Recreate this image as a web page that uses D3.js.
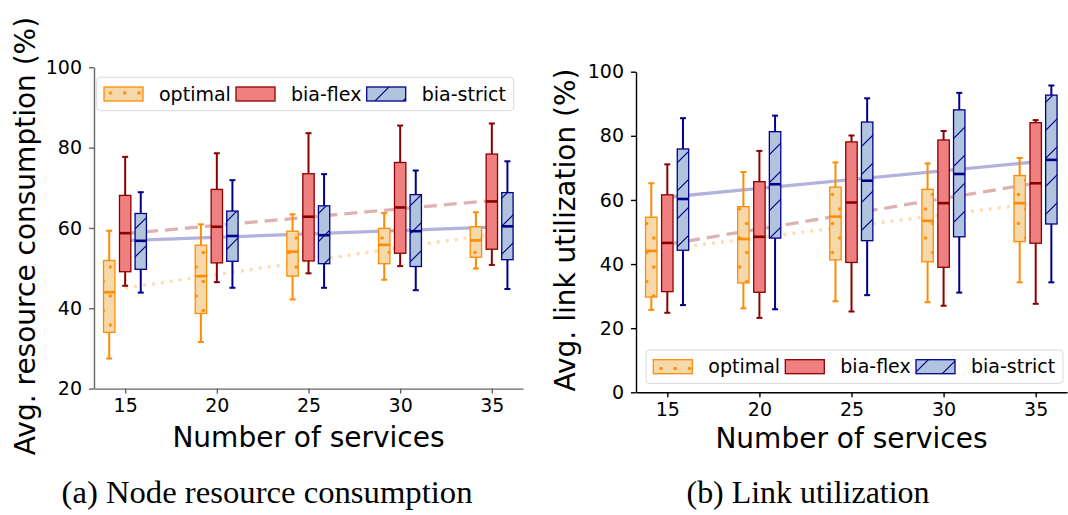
<!DOCTYPE html>
<html lang="en">
<head>
<meta charset="UTF-8">
<title>Resource consumption and link utilization</title>
<script src="https://d3js.org/d3.v7.min.js"></script>
<style>
    body { margin: 0; background: #fff; }
    svg { display: block; }
    text { font-family: "DejaVu Sans", sans-serif; fill: #000; }
    .caption { font-family: "Liberation Serif", "DejaVu Serif", serif; }
</style>
</head>
<body>
<svg id="chart" width="1068" height="515"></svg>
<script>
    // Data: [low whisker, q1, median, q3, high whisker]
    const services = [15, 20, 25, 30, 35];
    const seriesNames = ["optimal", "bia-flex", "bia-strict"];
    const nodeTicks = [20, 40, 60, 80, 100];
    const linkTicks = [0, 20, 40, 60, 80, 100];

    const nodeOptimal = [[27.5, 34.0, 44.0, 51.9, 59.3], [31.6, 38.7, 48.0, 55.7, 60.9], [42.2, 48.0, 54.1, 59.2, 63.4], [47.1, 51.1, 55.8, 59.9, 63.7], [49.9, 52.7, 56.9, 60.3, 63.9]];
    const nodeFlex = [[45.6, 49.1, 58.7, 68.1, 77.7], [46.5, 51.3, 60.3, 69.6, 78.6], [48.7, 51.8, 62.8, 73.5, 83.6], [50.5, 53.7, 65.1, 76.3, 85.5], [50.8, 54.7, 66.6, 78.4, 86.0]];
    const nodeStrict = [[43.9, 49.7, 56.8, 63.6, 68.9], [45.1, 51.7, 58.0, 64.2, 71.9], [45.1, 51.1, 58.2, 65.5, 73.4], [44.5, 50.4, 59.2, 68.3, 74.3], [44.8, 52.1, 60.4, 68.8, 76.6]];

    const linkOptimal = [[25.7, 29.7, 44.1, 54.6, 65.2], [26.2, 34.1, 47.8, 57.9, 68.7], [28.4, 41.3, 54.8, 64.0, 71.7], [28.1, 40.7, 53.5, 63.3, 71.4], [34.3, 47.0, 59.0, 67.6, 73.1]];
    const linkFlex = [[24.8, 31.4, 46.6, 61.6, 71.1], [23.2, 31.2, 48.5, 65.7, 75.3], [25.2, 40.5, 59.2, 78.1, 80.1], [27.0, 39.0, 59.0, 78.7, 81.5], [27.6, 46.5, 65.2, 84.1, 84.9]];
    const linkStrict = [[27.2, 44.3, 60.3, 75.9, 85.5], [25.9, 48.1, 64.9, 81.3, 86.3], [30.3, 47.3, 66.0, 84.3, 91.7], [31.1, 48.5, 68.1, 88.1, 93.4], [34.3, 52.5, 72.5, 92.7, 95.7]];

    // styles per series
    const styles = [
        { offset: -0.87, fill: "#f6d9aa", edge: "#ff8c00", hatch: "dots", dash: "3,6" },
        { offset: 0, fill: "#f08080", edge: "#8b0000", hatch: null, dash: "13,7" },
        { offset: 0.85, fill: "#b0c4de", edge: "#00008b", hatch: "slash", dash: null }
    ];

    const svg = d3.select("#chart");
    svg.append("rect").attr("width", 1068).attr("height", 515).attr("fill", "#fff");
    const defs = svg.append("defs");

    // hatch patterns, anchored to the page so that every group shares the same grid
    let patCount = 0;
    function makePatterns(ox, oy) {
        const k = patCount++;
        const dots = defs.append("pattern").attr("id", "dots" + k)
            .attr("patternUnits", "userSpaceOnUse")
            .attr("x", -ox).attr("y", -oy).attr("width", 14.3).attr("height", 29);
        dots.append("circle").attr("cx", 10.3).attr("cy", 6).attr("r", 1.7).attr("fill", "#ff8c00");
        dots.append("circle").attr("cx", 3.15).attr("cy", 20.5).attr("r", 1.7).attr("fill", "#ff8c00");

        const slash = defs.append("pattern").attr("id", "slash" + k)
            .attr("patternUnits", "userSpaceOnUse")
            .attr("x", -ox).attr("y", -oy).attr("width", 28).attr("height", 28);
        slash.append("path").attr("d", "M0,28 L28,0 M-4,4 L4,-4 M24,32 L32,24")
            .attr("stroke", "#00008b").attr("stroke-width", 1.2);
        return name => `url(#${name}${k})`;
    }

    function drawPanel(cfg) {
        const g = svg.append("g").attr("transform", `translate(${cfg.left},${cfg.top})`);
        const pat = makePatterns(cfg.left, cfg.top);

        const x = d3.scaleLinear().domain([13.3, 36.7]).range([0, cfg.w]);
        const y = d3.scaleLinear().domain(cfg.yDomain).range([cfg.h, 0]);

        // trend lines: least squares fit of the medians, drawn behind the boxes
        cfg.data.forEach((s, i) => {
            const pts = s.map((d, j) => [services[j], d[2]]);
            const mx = d3.mean(pts, p => p[0]), my = d3.mean(pts, p => p[1]);
            const slope = d3.sum(pts, p => (p[0] - mx) * (p[1] - my)) / d3.sum(pts, p => (p[0] - mx) ** 2);
            const x0 = services[0], x1 = services[services.length - 1];
            g.append("line")
                .attr("x1", x(x0)).attr("y1", y(my + slope * (x0 - mx)))
                .attr("x2", x(x1)).attr("y2", y(my + slope * (x1 - mx)))
                .attr("stroke", styles[i].edge)
                .attr("stroke-opacity", 0.3)
                .attr("stroke-width", 3.3)
                .attr("stroke-dasharray", styles[i].dash);
        });

        // boxes
        const bw = x(0.62) - x(0);
        const cap = 3;
        cfg.data.forEach((s, i) => {
            const st = styles[i];
            const grp = g.append("g");
            s.forEach((d, j) => {
                const cx = x(services[j] + st.offset);
                // whiskers
                grp.append("line").attr("x1", cx).attr("x2", cx).attr("y1", y(d[3])).attr("y2", y(d[4]))
                    .attr("stroke", st.edge).attr("stroke-width", 2);
                grp.append("line").attr("x1", cx).attr("x2", cx).attr("y1", y(d[1])).attr("y2", y(d[0]))
                    .attr("stroke", st.edge).attr("stroke-width", 2);
                [d[0], d[4]].forEach(v => {
                    grp.append("line").attr("x1", cx - cap).attr("x2", cx + cap).attr("y1", y(v)).attr("y2", y(v))
                        .attr("stroke", st.edge).attr("stroke-width", 2);
                });
                // box
                grp.append("rect").attr("x", cx - bw / 2).attr("y", y(d[3]))
                    .attr("width", bw).attr("height", y(d[1]) - y(d[3]))
                    .attr("fill", st.fill);
                if (st.hatch) {
                    grp.append("rect").attr("x", cx - bw / 2).attr("y", y(d[3]))
                        .attr("width", bw).attr("height", y(d[1]) - y(d[3]))
                        .attr("fill", pat(st.hatch));
                }
                grp.append("rect").attr("x", cx - bw / 2).attr("y", y(d[3]))
                    .attr("width", bw).attr("height", y(d[1]) - y(d[3]))
                    .attr("fill", "none").attr("stroke", st.edge).attr("stroke-width", 1.3);
                // median
                grp.append("line").attr("x1", cx - bw / 2).attr("x2", cx + bw / 2)
                    .attr("y1", y(d[2])).attr("y2", y(d[2]))
                    .attr("stroke", st.edge).attr("stroke-width", 2.6);
            });
        });

        // axes (left and bottom spines only)
        const xAxis = g.append("g").attr("transform", `translate(0,${cfg.h})`)
            .call(d3.axisBottom(x).tickValues(services).tickSize(5).tickSizeOuter(0).tickPadding(5));
        const yAxis = g.append("g")
            .call(d3.axisLeft(y).tickValues(cfg.ticks).tickSize(5).tickSizeOuter(0).tickPadding(7));
        [xAxis, yAxis].forEach(a => {
            a.selectAll("path, line").attr("stroke", cfg.spine).attr("stroke-width", 1.4);
            a.selectAll("text").style("font-size", "19px").attr("fill", "#111");
        });

        g.append("text")
            .attr("x", cfg.w / 2).attr("y", cfg.h + cfg.xTitleY)
            .attr("text-anchor", "middle").style("font-size", "28px")
            .text("Number of services");

        svg.append("text")
            .attr("transform", `translate(${cfg.yTitleX},${cfg.yTitleY}) rotate(-90)`)
            .attr("text-anchor", "middle").style("font-size", "28px")
            .text(cfg.yTitle);

        // legend
        const lx = cfg.legend[0], ly = cfg.legend[1];
        const lpat = makePatterns(cfg.left + lx, cfg.top + ly);
        const lg = g.append("g").attr("transform", `translate(${lx},${ly})`);
        lg.append("rect").attr("width", 417).attr("height", 33.4).attr("rx", 4)
            .attr("fill", "#fff").attr("fill-opacity", 0.8)
            .attr("stroke", "#d9d9d9").attr("stroke-width", 1);
        seriesNames.forEach((name, i) => {
            const st = styles[i];
            const hx = 7.3 + [0, 132, 262.7][i];
            const hy = 9.7;
            lg.append("rect").attr("x", hx).attr("y", hy).attr("width", 39).attr("height", 14).attr("fill", st.fill);
            if (st.hatch) {
                lg.append("rect").attr("x", hx).attr("y", hy).attr("width", 39).attr("height", 14).attr("fill", lpat(st.hatch));
            }
            lg.append("rect").attr("x", hx).attr("y", hy).attr("width", 39).attr("height", 14)
                .attr("fill", "none").attr("stroke", st.edge).attr("stroke-width", 1.3);
            lg.append("text").attr("x", hx + 55).attr("y", hy + 7).attr("dy", "0.35em")
                .style("font-size", "19px").attr("fill", "#111").text(name);
        });
    }

    drawPanel({
        left: 94, top: 67.3, w: 429, h: 321.3,
        yDomain: [20, 100], ticks: nodeTicks,
        data: [nodeOptimal, nodeFlex, nodeStrict],
        spine: "#666",
        xTitleY: 58.5,
        yTitle: "Avg. resource consumption (%)", yTitleX: 35, yTitleY: 236,
        legend: [2.7, 10]
    });

    drawPanel({
        left: 636, top: 71.7, w: 431, h: 320.6,
        yDomain: [0, 100], ticks: linkTicks,
        data: [linkOptimal, linkFlex, linkStrict],
        spine: "#000",
        xTitleY: 56,
        yTitle: "Avg. link utilization (%)", yTitleX: 575, yTitleY: 230,
        legend: [10, 278.3]
    });

    // sub-figure captions
    svg.append("text").attr("class", "caption")
        .attr("x", 267).attr("y", 503).attr("text-anchor", "middle")
        .style("font-size", "31px")
        .attr("textLength", 411).attr("lengthAdjust", "spacingAndGlyphs")
        .text("(a) Node resource consumption");
    svg.append("text").attr("class", "caption")
        .attr("x", 808).attr("y", 503).attr("text-anchor", "middle")
        .style("font-size", "31px")
        .attr("textLength", 243).attr("lengthAdjust", "spacingAndGlyphs")
        .text("(b) Link utilization");
</script>
</body>
</html>
